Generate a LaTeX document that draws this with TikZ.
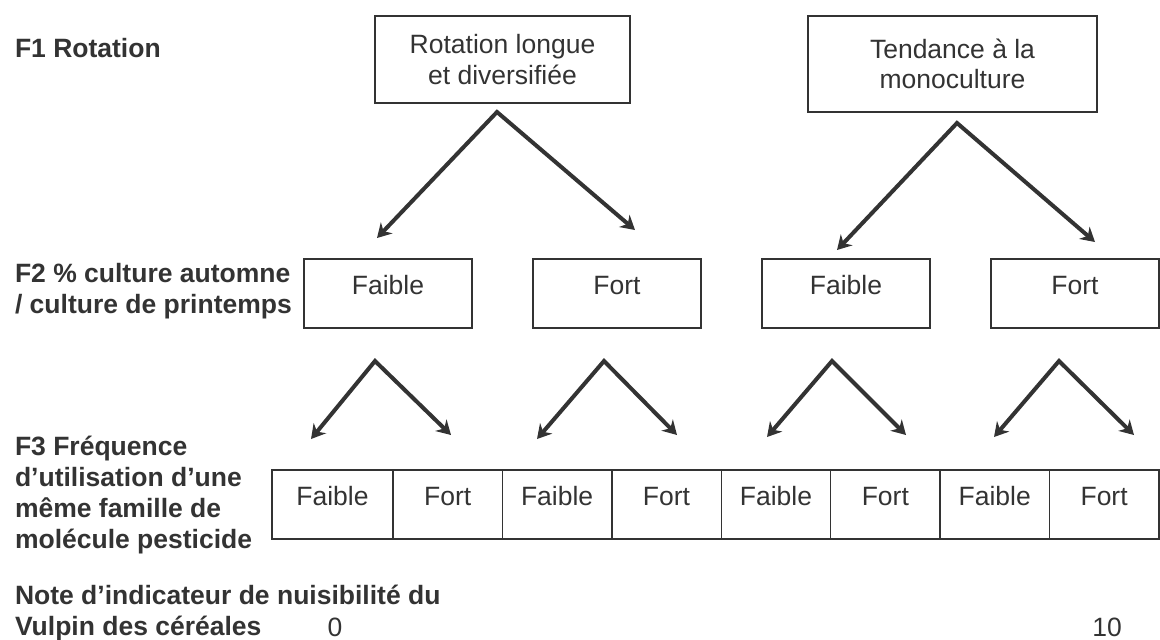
\documentclass[tikz,border=0pt]{standalone}
\usepackage{fontspec}
\setmainfont{Liberation Sans}
\usetikzlibrary{positioning,arrows.meta}
\definecolor{ink}{HTML}{333333}
\begin{document}
\begin{tikzpicture}[x=0.5pt, y=-0.5pt,
    every node/.style = {font=\fontsize{13.25}{15.25}\selectfont, text=ink, outer sep=0pt},
    tbox/.style = {draw=ink, line width=0.7pt, align=center},
    box/.style = {draw=ink, line width=0.7pt, minimum height=34.5pt, text height=0.75em, text depth=0.7em},
    lbl/.style = {anchor=west, align=left, inner sep=0pt, font=\fontsize{13.25}{15.5}\selectfont\bfseries},
    fork/.style = {draw=ink, line width=2pt, line join=miter,
      {Stealth[length=7pt,width=8pt]}-{Stealth[length=7pt,width=8pt]}}]
    \useasboundingbox (0,0) rectangle (1160,639);
    % row labels
    \node[lbl] (f1) at (15,48) {F1 Rotation};
    \node[lbl] (f2) at (15,291) {F2 \% culture automne\\/ culture de printemps};
    \node[lbl] (f3) at (15,495) {F3 Fréquence\\d’utilisation d’une\\même famille de\\molécule pesticide};
    \node[lbl] (note) at (15,613) {Note d’indicateur de nuisibilité du\\Vulpin des céréales};
    \node[inner sep=0pt] (n0) at (335,627) {0};
    \node[inner sep=0pt] (n10) at (1107,627) {10};
    % F1
    \node[tbox, minimum width=127.5pt, minimum height=43.5pt] (r1) at (502.5,59.5) {Rotation longue\\et diversifiée};
    \node[tbox, minimum width=144.5pt, minimum height=48pt] (r2) at (952.5,64) {Tendance à la\\monoculture};
    % F2
    \node[box, minimum width=84pt] (m1) at (388,293.5) {Faible};
    \node[box, minimum width=84pt, right=30.5pt of m1] (m2) {Fort};
    \node[box, minimum width=84pt, right=30.5pt of m2] (m3) {Faible};
    \node[box, minimum width=84pt, right=30.5pt of m3] (m4) {Fort};
    % F3
    \node[box, minimum width=60.5pt] (c1) at (332.5,504.5) {Faible};
    \node[box, minimum width=54.7pt, right=0pt of c1] (c2) {Fort};
    \node[box, minimum width=54.7pt, right=0pt of c2] (c3) {Faible};
    \node[box, minimum width=54.7pt, right=0pt of c3] (c4) {Fort};
    \node[box, minimum width=54.7pt, right=0pt of c4] (c5) {Faible};
    \node[box, minimum width=54.7pt, right=0pt of c5] (c6) {Fort};
    \node[box, minimum width=54.7pt, right=0pt of c6] (c7) {Faible};
    \node[box, minimum width=54.7pt, right=0pt of c7] (c8) {Fort};
    % forks
    \path (r1.south) ++(-5.5,9) coordinate (r1v) ++(-120,126) coordinate (r1l) (r1v) ++(138,118) coordinate (r1r);
    \path (r2.south) ++(4.5,11) coordinate (r2v) ++(-120,127) coordinate (r2l) (r2v) ++(138,119) coordinate (r2r);
    \path (m1.south) ++(-13,33) coordinate (m1v) ++(-64,78) coordinate (m1l) (m1v) ++(76,74) coordinate (m1r);
    \path (m2.south) ++(-13,33) coordinate (m2v) ++(-67,78) coordinate (m2l) (m2v) ++(73,74) coordinate (m2r);
    \path (m3.south) ++(-14,33) coordinate (m3v) ++(-65,76) coordinate (m3l) (m3v) ++(74,74) coordinate (m3r);
    \path (m4.south) ++(-16,33) coordinate (m4v) ++(-65,76) coordinate (m4l) (m4v) ++(75,74) coordinate (m4r);
    \draw[fork] (r1l) -- (r1v) -- (r1r);
    \draw[fork] (r2l) -- (r2v) -- (r2r);
    \draw[fork] (m1l) -- (m1v) -- (m1r);
    \draw[fork] (m2l) -- (m2v) -- (m2r);
    \draw[fork] (m3l) -- (m3v) -- (m3r);
    \draw[fork] (m4l) -- (m4v) -- (m4r);
\end{tikzpicture}
\end{document}
